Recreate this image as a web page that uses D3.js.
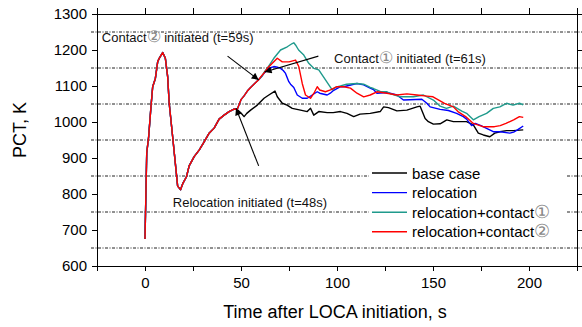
<!DOCTYPE html>
<html lang="en">
<head>
<meta charset="UTF-8">
<title>PCT after LOCA initiation</title>
<script src="https://d3js.org/d3.v7.min.js"></script>
<style>
    body { margin: 0; background: #fff; }
    svg { font-family: Arial, "Liberation Sans", sans-serif; }
    .axis path, .axis line { stroke: #000; stroke-width: 1.2; shape-rendering: crispEdges; }
    .axis text { font-size: 15px; fill: #000; }
    .grid { stroke: #222; stroke-width: 1; stroke-dasharray: 3,1.5,1,1.5; }
    .curve { fill: none; stroke-width: 1.4; stroke-linejoin: round; }
    .note { font-size: 13px; fill: #111; }
    .circ { fill: #888; font-size: 1.2em; }
</style>
</head>
<body>
<div id="chart"></div>
<script>
// [time s, PCT K]
const startupTrace = [[0,675],[0.9,914],[1.9,959],[3.1,1042],[4,1098],[5.4,1121],[6.6,1167],[7.4,1177],
    [9.2,1193],[10.6,1177],[11.8,1126],[12.6,1052],[14.4,959],[15.8,885],[17,822],[18.5,812],[19.6,828],
    [21.6,848],[23,878],[25.6,904],[28.2,922],[30.8,945],[33.4,969],[36,983],[38.6,1008],[41.2,1019],
    [43.8,1029],[46.4,1036],[48,1035]];
const relocRise = [[50,1062],[51.5,1072],[53.3,1086],[55,1096],[57,1106],[59.3,1118]];

const baseTail = [[50,1025],[51.6,1015],[53,1024],[55,1033],[58.5,1047],[62,1066],[64.5,1075],[67.7,1086],
    [68.9,1070],[71.5,1052],[74,1047],[76.7,1038],[81,1033],[84.5,1029],[86.2,1038],[87.9,1019],[90.5,1029],
    [94.9,1026],[98,1026],[101.8,1029],[105.2,1024],[108.7,1015],[112,1022],[117.3,1024],[122.5,1029],
    [124.3,1042],[126.8,1040],[131.2,1031],[136.4,1033],[141.6,1042],[143.3,1044],[145.9,1010],[147.6,1001],
    [150.2,994],[153.7,995],[157.2,1006],[160.6,1001],[167.5,1001],[171,992],[173.6,969],[176.2,964],
    [179.6,959],[182.2,969],[184.8,973],[188.3,976],[191.7,976],[197,978]];

const relocTail = [[61,1128],[62,1135],[63.7,1146],[65,1150],[67.1,1154],[69,1152],[70.6,1149],[72,1143],
    [73.2,1135],[74.9,1112],[75.8,1105],[77.5,1096],[79.3,1075],[81.9,1066],[84.5,1066],[87.1,1075],
    [89.7,1084],[91,1080],[94.9,1075],[96.5,1080],[98.3,1088],[101.8,1098],[103.5,1098],[108.7,1105],
    [110.4,1107],[113.9,1103],[117,1095],[119,1090],[120.8,1080],[126,1082],[131.2,1075],[134.6,1061],
    [138,1062],[144.2,1063],[146.8,1052],[148.5,1042],[153.7,1035],[158,1032],[162.3,1024],[165.8,1015],
    [167.5,1008],[170.1,990],[172,996],[175,990],[177.9,982],[181.4,973],[185,973],[190,969],[192,972],
    [194,978],[197,989]];

const contact1Tail = [[61,1128],[62,1138],[64,1152],[67.1,1177],[70.6,1200],[74.1,1209],[76.7,1218],
    [77.5,1220],[78.4,1214],[80,1200],[82.7,1186],[85.3,1163],[87.9,1149],[90.5,1145],[94,1117],[97.5,1089],
    [99,1096],[101.8,1100],[105,1105],[110.4,1107],[113.9,1105],[117.3,1096],[119,1093],[122.5,1085],
    [126,1084],[128,1078],[132.9,1070],[139.8,1070],[145,1075],[150.2,1061],[153.7,1044],[157,1038],
    [160.6,1044],[165,1030],[167.5,1024],[171,1006],[174,1015],[177.9,1024],[181.4,1038],[184.8,1042],
    [188.3,1052],[191.7,1047],[195,1052],[197,1048]];

const contact2Tail = [[61,1130],[62,1136],[63.7,1149],[65.4,1158],[68.9,1177],[71.5,1167],[75,1167],
    [78.4,1172],[80.1,1154],[81.9,1107],[83.6,1075],[86.2,1066],[88,1080],[89.7,1098],[91,1089],[94,1084],
    [96.6,1089],[100,1098],[103.5,1098],[107,1094],[110.4,1080],[113.9,1070],[117.3,1075],[120.8,1084],
    [126,1080],[131.2,1075],[136.4,1078],[141.6,1075],[146.8,1072],[150,1070],[153,1061],[156,1052],
    [160.6,1042],[163,1029],[167,1015],[171,996],[176,987],[182,987],[185,990],[188,996],[192,1006],
    [195,1015],[197,1013]];

const seriesNames = ["base case", "relocation", "relocation+contact①", "relocation+contact②"];
const seriesColors = ["#000000", "#0000ff", "#1f9a8c", "#ff0000"];
const seriesPoints = [
    startupTrace.concat(baseTail),
    startupTrace.concat(relocRise, relocTail),
    startupTrace.concat(relocRise, contact1Tail),
    startupTrace.concat(relocRise, contact2Tail)
];

const xTicks = d3.range(-25, 226, 25);
const yTicks = d3.range(600, 1301, 100);
const gridLevels = d3.range(650, 1300, 100);

// annotations: text anchor (t, K) and arrow tail -> tip in data units
const notes = [
    {pre: "Contact", circ: "②", post: " initiated (t=59s)", at: [-22.5, 1222], from: [43, 1183], to: [59.2, 1117]},
    {pre: "Contact", circ: "①", post: " initiated (t=61s)", at: [98.5, 1165], from: [90.3, 1183], to: [62.3, 1139]},
    {pre: "Relocation initiated (t=48s)", circ: "", post: "", at: [14.5, 765], from: [59.2, 878], to: [47.4, 1038]}
];

const W = 582, H = 327;
const x = d3.scaleLinear().domain([-25, 225]).range([97, 577]);
const y = d3.scaleLinear().domain([600, 1300]).range([266, 14]);

const svg = d3.select("#chart").append("svg")
    .attr("width", W).attr("height", H);

svg.append("defs").append("marker")
    .attr("id", "head")
    .attr("viewBox", "0 0 10 10")
    .attr("refX", 10).attr("refY", 5)
    .attr("markerWidth", 9).attr("markerHeight", 7)
    .attr("markerUnits", "userSpaceOnUse")
    .attr("orient", "auto")
    .append("path").attr("d", "M0,0L10,5L0,10z").attr("fill", "#000");

// dash-dot reference lines
svg.selectAll(".grid")
    .data(gridLevels)
    .enter().append("line")
    .attr("class", "grid")
    .attr("x1", 91).attr("x2", W)
    .attr("y1", d => y(d)).attr("y2", d => y(d));

// curves
const line = d3.line().x(d => x(d[0])).y(d => y(d[1]));
seriesPoints.forEach((pts, i) => {
    svg.append("path")
        .datum(pts)
        .attr("class", "curve")
        .attr("stroke", seriesColors[i])
        .attr("d", line);
});

// axes
svg.append("g").attr("class", "axis")
    .attr("transform", `translate(0,${y(600)})`)
    .call(d3.axisBottom(x).tickValues(xTicks).tickSizeOuter(0).tickSize(5).tickPadding(6)
        .tickFormat(d => d % 50 === 0 && d >= 0 ? d : ""));
svg.append("g").attr("class", "axis")
    .attr("transform", `translate(0,${y(1300)})`)
    .call(d3.axisTop(x).tickValues(xTicks).tickSizeOuter(0).tickSize(6).tickFormat(""));
svg.append("g").attr("class", "axis")
    .attr("transform", `translate(${x(-25)},0)`)
    .call(d3.axisLeft(y).tickValues(yTicks).tickSizeOuter(0).tickSize(5).tickPadding(5)
        .tickFormat(d3.format("d")));
svg.append("g").attr("class", "axis")
    .attr("transform", `translate(${x(225)},0)`)
    .call(d3.axisRight(y).tickValues(yTicks).tickSizeOuter(0).tickSize(5).tickFormat(""));

// annotations
notes.forEach(n => {
    svg.append("line")
        .attr("x1", x(n.from[0])).attr("y1", y(n.from[1]))
        .attr("x2", x(n.to[0])).attr("y2", y(n.to[1]))
        .attr("stroke", "#000").attr("stroke-width", 1.1)
        .attr("marker-end", "url(#head)");
    const t = svg.append("text").attr("class", "note")
        .attr("x", x(n.at[0])).attr("y", y(n.at[1]));
    t.append("tspan").text(n.pre);
    if (n.circ) t.append("tspan").attr("class", "circ").text(n.circ);
    if (n.post) t.append("tspan").text(n.post);
});

// legend
const legend = svg.append("g");
legend.append("rect")
    .attr("x", 369).attr("y", 163).attr("width", 197).attr("height", 78)
    .attr("fill", "#fff");
seriesNames.forEach((name, i) => {
    const ly = 173 + i * 19.6;
    legend.append("line")
        .attr("x1", 372).attr("x2", 407).attr("y1", ly).attr("y2", ly)
        .attr("stroke", seriesColors[i]).attr("stroke-width", 1.4);
    const t = legend.append("text")
        .attr("x", 412).attr("y", ly + 5.5)
        .style("font-size", "15px");
    const m = name.match(/^(.*?)([①②]?)$/);
    t.append("tspan").text(m[1]);
    if (m[2]) t.append("tspan").attr("class", "circ").text(m[2]);
});

// axis titles
svg.append("text")
    .attr("x", (x(-25) + x(225)) / 2 - 2).attr("y", 318)
    .attr("text-anchor", "middle")
    .style("font-size", "18px")
    .text("Time after LOCA initiation, s");
svg.append("text")
    .attr("transform", "translate(26,130) rotate(-90)")
    .attr("text-anchor", "middle")
    .style("font-size", "18px")
    .text("PCT, K");
</script>
</body>
</html>
